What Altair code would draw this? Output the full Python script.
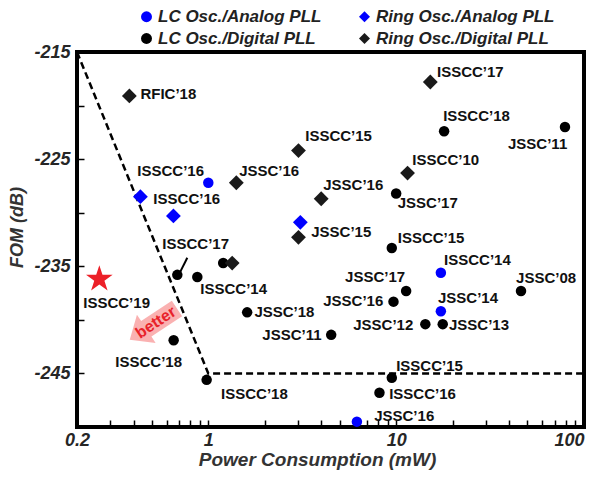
import altair as alt
import pandas as pd

FONT = "Liberation Sans"

# ---- series values ----
types = ["LC Osc./Analog PLL", "LC Osc./Digital PLL", "Ring Osc./Analog PLL", "Ring Osc./Digital PLL"]
type_colors = ["#0000ff", "#000000", "#0000ff", "#1a1a1a"]
type_shapes = ["circle", "circle", "diamond", "diamond"]

lc_analog_x = [1.0, 17.3, 17.3, 6.18]
lc_analog_y = [-227.2, -235.6, -239.2, -249.5]

ring_analog_x = [0.435, 0.652, 3.09]
ring_analog_y = [-228.5, -230.3, -230.9]

lc_digital_x = [18.0, 79.2, 10.0, 9.48, 0.684, 0.874, 1.20, 46.2, 11.3, 9.68,
                14.3, 17.7, 1.61, 4.51, 0.654, 0.98, 9.48, 8.15]
lc_digital_y = [-222.4, -222.0, -228.2, -233.3, -235.8, -236.0, -234.7, -237.3, -237.3, -238.3,
                -240.4, -240.4, -239.3, -241.4, -241.9, -245.6, -245.4, -246.8]

ring_digital_x = [0.38, 15.2, 3.02, 1.41, 11.5, 3.99, 3.02, 1.34]
ring_digital_y = [-219.1, -217.8, -224.2, -227.2, -226.3, -228.7, -232.3, -234.7]

this_work_x = [0.263]
this_work_y = [-236.2]

# FOM boundary (dashed)
bound_x = [0.2, 1.0, 100.0]
bound_y = [-215.0, -245.0, -245.0]

# ---- annotation texts ----
label_text = ["RFIC’18", "ISSCC’17", "ISSCC’18", "JSSC’11", "ISSCC’15", "ISSCC’16", "JSSC’16",
              "ISSCC’16", "ISSCC’10", "JSSC’16", "JSSC’17", "JSSC’15", "ISSCC’15", "ISSCC’17",
              "ISSCC’14", "ISSCC’19", "ISSCC’14", "JSSC’08", "JSSC’17", "JSSC’16", "JSSC’14",
              "JSSC’12", "JSSC’13", "JSSC’18", "JSSC’11", "ISSCC’18", "ISSCC’18", "ISSCC’15",
              "ISSCC’16", "JSSC’16"]
label_x = [0.435, 16.5, 17.8, 39.4, 3.28, 0.419, 1.46, 0.51, 12.2, 4.09, 10.2, 3.53, 10.2, 0.569,
           0.907, 0.216, 18.0, 43.5, 5.35, 4.09, 16.7, 5.91, 19.1, 1.76, 1.94, 0.32, 1.17, 10.0,
           9.18, 7.64]
label_y = [-218.9, -216.9, -221.0, -223.6, -222.8, -226.1, -226.1, -228.7, -225.1, -227.4, -229.1,
           -231.8, -232.4, -232.9, -237.1, -238.4, -234.4, -236.1, -236.0, -238.2, -238.0, -240.5,
           -240.5, -239.3, -241.4, -243.9, -246.9, -244.3, -246.9, -249.0]

# leader line for ISSCC'17
leader_x = [0.773]
leader_y = [-234.2]
leader_x2 = [0.71]
leader_y2 = [-235.5]

# "better" arrow
better_x = [0.51]
better_y = [-240.4]
better_text = ["better"]

x_ticks = [0.2, 0.3, 0.4, 0.5, 0.6, 0.7, 0.8, 0.9, 1, 2, 3, 4, 5, 6, 7, 8, 9,
           10, 20, 30, 40, 50, 60, 70, 80, 90, 100]
y_ticks = [-245, -240, -235, -230, -225, -220, -215]

# ---- tables ----
pts = pd.DataFrame({
    "x": lc_analog_x + ring_analog_x + lc_digital_x + ring_digital_x,
    "y": lc_analog_y + ring_analog_y + lc_digital_y + ring_digital_y,
    "type": ["LC Osc./Analog PLL"] * len(lc_analog_x) + ["Ring Osc./Analog PLL"] * len(ring_analog_x)
            + ["LC Osc./Digital PLL"] * len(lc_digital_x) + ["Ring Osc./Digital PLL"] * len(ring_digital_x),
})
circles_df = pts[pts["type"].str.startswith("LC")]
diamonds_df = pts[pts["type"].str.startswith("Ring")]
bound_df = pd.DataFrame({"x": bound_x, "y": bound_y, "i": list(range(len(bound_x)))})
labels_df = pd.DataFrame({"x": label_x, "y": label_y, "t": label_text})
leader_df = pd.DataFrame({"x": leader_x, "y": leader_y, "x2": leader_x2, "y2": leader_y2})
better_df = pd.DataFrame({"x": better_x, "y": better_y, "t": better_text})
star_df = pd.DataFrame({"x": this_work_x, "y": this_work_y})

# ---- scales / axes ----
xscale = alt.Scale(type="log", domain=[0.2, 100], nice=False)
yscale = alt.Scale(domain=[-250, -215], nice=False, zero=False)

xaxis = alt.Axis(
    values=x_ticks,
    labelExpr="datum.value == 0.2 ? '0.2' : datum.value == 1 ? '1' : datum.value == 10 ? '10' : datum.value == 100 ? '100' : ''",
    labelAlign={"condition": {"test": "datum.value == 100", "value": "right"}, "value": "center"},
    title="Power Consumption (mW)",
    domain=False, grid=False, tickColor="black", tickWidth=1.5, tickSize=7, offset=-7,
    labelPadding=4, labelFont=FONT, labelFontSize=18, labelFontStyle="italic",
    labelFontWeight="bold", labelColor="#262626", labelFlush=False, labelOverlap=False,
    titleFont=FONT, titleFontSize=19, titleFontStyle="italic", titleFontWeight="bold",
    titleColor="#333333", titleX=240, titleY=45, titleBaseline="alphabetic", titleAlign="center",
)
yaxis = alt.Axis(
    values=y_ticks,
    labelExpr="(datum.value + 215) % 10 == 0 ? '' + datum.value : ''",
    title="FOM (dB)",
    domain=False, grid=False, tickColor="black", tickWidth=1.5, tickSize=7, offset=-7,
    labelPadding=7, labelFont=FONT, labelFontSize=18, labelFontStyle="italic",
    labelFontWeight="bold", labelColor="#262626", labelFlush=False, labelOverlap=False,
    titleFont=FONT, titleFontSize=18, titleFontStyle="italic", titleFontWeight="bold",
    titleColor="#333333", titleX=-62, titleY=175, titleBaseline="alphabetic", titleAlign="center",
    titleAngle=270,
)

X = alt.X("x:Q", scale=xscale, axis=xaxis)
Y = alt.Y("y:Q", scale=yscale, axis=yaxis)

leg = alt.Legend(
    orient="none", legendX=61, legendY=-44, columns=2, columnPadding=34, rowPadding=4,
    title=None, labelFont=FONT, labelFontSize=17, labelFontStyle="italic", labelFontWeight="bold",
    labelColor="#222222", labelLimit=400, symbolSize=120, labelOffset=3, symbolStrokeWidth=0,
    symbolOpacity=1,
)
color = alt.Color("type:N", scale=alt.Scale(domain=types, range=type_colors), legend=leg)
shape = alt.Shape("type:N", scale=alt.Scale(domain=types, range=type_shapes), legend=leg)

ARROW = "M-1,0L-0.3,-0.6L-0.3,-0.33L1,-0.33L1,0.33L-0.3,0.33L-0.3,0.6Z"
STAR = ("M0,-1L0.2245,-0.309L0.9511,-0.309L0.3633,0.118L0.5878,0.809L0,0.382"
        "L-0.5878,0.809L-0.3633,0.118L-0.9511,-0.309L-0.2245,-0.309Z")

bound = alt.Chart(bound_df).mark_line(color="black", strokeWidth=2.5, strokeDash=[7, 4]).encode(
    x=X, y=Y, order="i:O")
leader = alt.Chart(leader_df).mark_rule(color="black", strokeWidth=2).encode(
    x=X, y=Y, x2="x2:Q", y2="y2:Q")
arrow = alt.Chart(better_df).mark_point(
    shape=ARROW, filled=True, color="#f9a3a3", opacity=0.85, size=3200, angle=326.6,
    strokeWidth=0).encode(x=X, y=Y)
better = alt.Chart(better_df).mark_text(
    angle=326.6, color="#e8222a", font=FONT, fontWeight="bold", fontSize=16,
    align="center", baseline="middle", dx=3).encode(x=X, y=Y, text="t:N")
circles = alt.Chart(circles_df).mark_point(filled=True, size=110, opacity=1, strokeWidth=0).encode(
    x=X, y=Y, color=color, shape=shape)
diamonds = alt.Chart(diamonds_df).mark_point(filled=True, size=220, opacity=1, strokeWidth=0).encode(
    x=X, y=Y, color=color, shape=shape)
star = alt.Chart(star_df).mark_point(shape=STAR, filled=True, color="#ec2028", size=784,
                                     opacity=1, strokeWidth=0).encode(x=X, y=Y)
labels = alt.Chart(labels_df).mark_text(
    align="left", baseline="middle", font=FONT, fontSize=15, fontWeight="bold",
    color="#111111").encode(x=X, y=Y, text="t:N")

chart = alt.layer(bound, leader, arrow, better, circles, diamonds, star, labels).properties(
    width=507, height=375,
    autosize=alt.AutoSizeParams(type="none"),
    padding={"left": 69, "top": 44, "right": 8, "bottom": 43},
).configure_view(stroke="black", strokeWidth=4)

chart.save("out.html", embed_options={"renderer": "svg", "actions": False})
